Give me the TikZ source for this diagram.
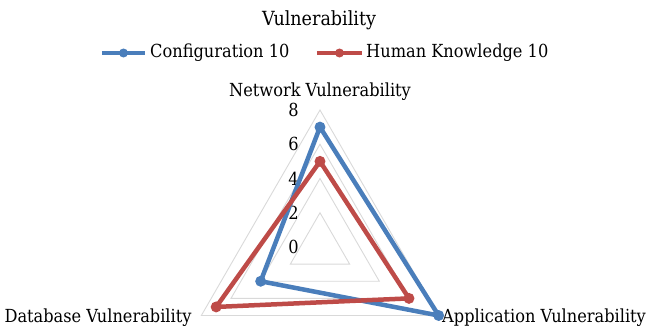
\documentclass[tikz,border=0pt]{standalone}
\usepackage{fontspec}
\setmainfont{DejaVu Serif Condensed}
\usetikzlibrary{calc}
\definecolor{cfgblue}{HTML}{4A7EBB}
\definecolor{hkred}{HTML}{BE4B48}
\newcommand{\vstep}{17.125}
\tikzset{
  ring/.style={draw=gray!30, line width=0.9pt},
  series/.style={line width=4.5pt, line join=round},
  dot/.style={circle, fill, inner sep=0pt, minimum size=11pt},
  lbl/.style={font=\fontsize{18}{20}\selectfont, inner sep=1pt},
}

\begin{document}
\begin{tikzpicture}[x=1pt,y=1pt]
  \useasboundingbox (-320,-83) rectangle (326,247);

  % grid triangles
  \foreach \r in {2,4,6,8}
    \draw[ring] (90:\r*\vstep) -- (210:\r*\vstep) -- (330:\r*\vstep) -- cycle;

  % scale
  \foreach \v in {0,2,4,6,8}
    \node[lbl, anchor=east] (tick\v) at (-20,\v*\vstep) {\v};

  % axis names
  \node[lbl] (net) at (0,155) {Network Vulnerability};
  \node[lbl] (db) at (-222,-71) {Database Vulnerability};
  \node[lbl] (app) at (224,-71) {Application Vulnerability};

  % Configuration 10
  \coordinate (c1) at (90:7*\vstep);
  \coordinate (c2) at (330:8*\vstep);
  \coordinate (c3) at (210:4*\vstep);
  \draw[series, cfgblue] (c1) -- (c2) -- (c3) -- cycle;
  \foreach \p in {c1,c2,c3} \node[dot, cfgblue] at (\p) {};

  % Human Knowledge 10
  \coordinate (h1) at (90:5*\vstep);
  \coordinate (h2) at (330:6*\vstep);
  \coordinate (h3) at (210:7*\vstep);
  \draw[series, hkred] (h1) -- (h2) -- (h3) -- cycle;
  \foreach \p in {h1,h2,h3} \node[dot, hkred] at (\p) {};

  % title and legend
  \node[lbl, font=\fontsize{19.5}{22}\selectfont] (title) at (-1,227) {Vulnerability};
  \coordinate (lb1) at (-218,194);
  \coordinate (lb2) at (-175,194);
  \draw[series, line width=4pt, cfgblue] (lb1) -- (lb2);
  \node[dot, cfgblue, minimum size=9pt] (lbdot) at ($(lb1)!0.5!(lb2)$) {};
  \node[lbl, anchor=west] (lgcfg) at (-171,194) {Configuration 10};
  \coordinate (lr1) at (-3,194);
  \coordinate (lr2) at (42,194);
  \draw[series, line width=4pt, hkred] (lr1) -- (lr2);
  \node[dot, hkred, minimum size=9pt] (lrdot) at ($(lr1)!0.5!(lr2)$) {};
  \node[lbl, anchor=west] (lghk) at (45,194) {Human Knowledge 10};
\end{tikzpicture}
\end{document}
